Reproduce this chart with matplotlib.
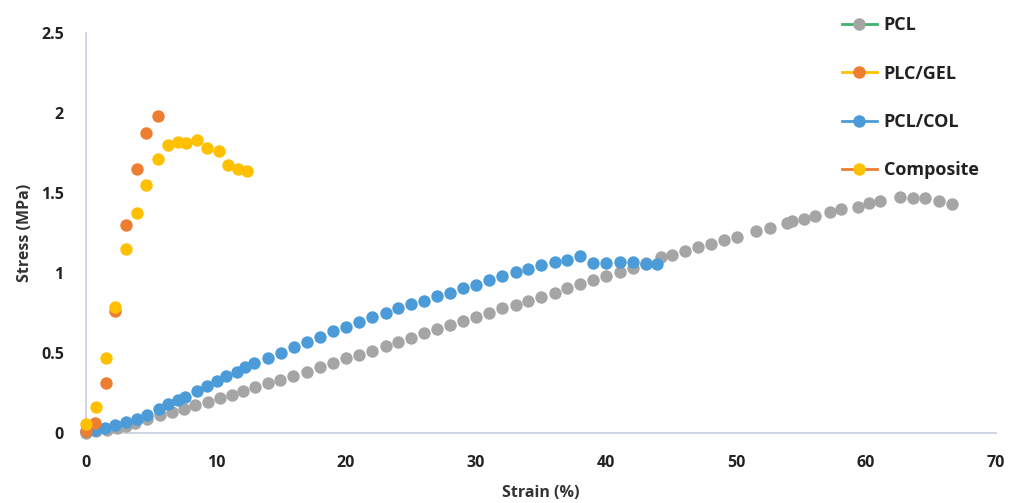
import matplotlib.pyplot as plt
from matplotlib.lines import Line2D

# --- data ---
pcl_strain = [0.0, 0.8, 1.6, 2.4, 3.1, 3.8, 4.7, 5.7, 6.6, 7.5, 8.4, 9.4, 10.3, 11.2,
              12.1, 13.0, 14.0, 14.9, 15.9, 17.0, 18.0, 19.0, 20.0, 21.0, 22.0, 23.1,
              24.0, 25.0, 26.0, 27.0, 28.0, 29.0, 30.0, 31.0, 32.0, 33.1, 34.0, 35.0,
              36.1, 37.0, 38.0, 39.0, 40.0, 41.1, 42.1, 43.1, 44.2, 45.1, 46.1, 47.1,
              48.1, 49.1, 50.1, 51.5, 52.6, 53.9, 54.3, 55.2, 56.1, 57.2, 58.1, 59.4,
              60.2, 61.1, 62.6, 63.6, 64.5, 65.6, 66.6]
pcl_stress = [0.0, 0.01, 0.02, 0.03, 0.045, 0.06, 0.085, 0.11, 0.13, 0.152, 0.175,
              0.196, 0.22, 0.24, 0.264, 0.285, 0.31, 0.33, 0.356, 0.38, 0.415, 0.44,
              0.467, 0.49, 0.514, 0.546, 0.57, 0.596, 0.623, 0.648, 0.675, 0.70, 0.727,
              0.752, 0.78, 0.80, 0.827, 0.852, 0.877, 0.904, 0.93, 0.955, 0.98, 1.005,
              1.03, 1.06, 1.098, 1.112, 1.137, 1.16, 1.18, 1.206, 1.228, 1.26, 1.28,
              1.315, 1.325, 1.338, 1.354, 1.38, 1.40, 1.415, 1.435, 1.45, 1.473, 1.47,
              1.467, 1.45, 1.43]

gel_strain = [0.0, 0.7, 1.5, 2.2, 3.1, 3.9, 4.6, 5.5]
gel_stress = [0.01, 0.06, 0.31, 0.76, 1.30, 1.65, 1.877, 1.98]

col_strain = [0.0, 0.7, 1.45, 2.2, 3.1, 3.9, 4.7, 5.6, 6.3, 7.1, 7.6, 8.5, 9.3, 10.05,
              10.8, 11.6, 12.2, 12.9, 14.0, 15.0, 16.0, 17.0, 18.0, 19.0, 20.0, 21.0,
              22.0, 23.1, 24.0, 25.0, 26.0, 27.0, 28.0, 29.0, 30.0, 31.0, 32.0, 33.1,
              34.0, 35.0, 36.1, 37.0, 38.0, 39.0, 40.0, 41.1, 42.1, 43.1, 43.9]
col_stress = [0.01, 0.02, 0.033, 0.05, 0.07, 0.09, 0.115, 0.15, 0.18, 0.206, 0.227,
              0.264, 0.294, 0.327, 0.356, 0.383, 0.41, 0.44, 0.467, 0.498, 0.537, 0.57,
              0.60, 0.637, 0.664, 0.695, 0.727, 0.748, 0.78, 0.804, 0.827, 0.858, 0.877,
              0.904, 0.925, 0.956, 0.98, 1.004, 1.028, 1.05, 1.067, 1.08, 1.108, 1.064,
              1.064, 1.07, 1.07, 1.054, 1.054]

comp_strain = [0.0, 0.74, 1.5, 2.2, 3.1, 3.9, 4.6, 5.5, 6.3, 7.1, 7.7, 8.5, 9.3, 10.2,
               10.95, 11.7, 12.35]
comp_stress = [0.054, 0.16, 0.467, 0.79, 1.148, 1.373, 1.55, 1.71, 1.80, 1.82, 1.81,
               1.83, 1.78, 1.76, 1.675, 1.65, 1.64]

labels = ['PCL', 'PLC/GEL', 'PCL/COL', 'Composite']

GREY = '#A5A5A5'
ORANGE = '#ED7D31'
BLUE = '#4A9BD8'
YELLOW = '#FFC000'
GREEN = '#3DB36B'

plt.rcParams['font.family'] = ['Open Sans', 'DejaVu Sans']
plt.rcParams['font.weight'] = 'bold'

fig = plt.figure(figsize=(10.1, 5.03), dpi=100)
ax = fig.add_axes([86 / 1010, 70 / 503, 910 / 1010, 400 / 503])

ms = 80
ax.scatter(pcl_strain, pcl_stress, s=ms, color=GREY, zorder=3, clip_on=False, linewidths=0)
ax.scatter(col_strain, col_stress, s=ms, color=BLUE, zorder=4, clip_on=False, linewidths=0)
ax.scatter(gel_strain, gel_stress, s=ms, color=ORANGE, zorder=5, clip_on=False, linewidths=0)
ax.scatter(comp_strain, comp_stress, s=ms, color=YELLOW, zorder=6, clip_on=False, linewidths=0)

ax.set_xlim(0, 70)
ax.set_ylim(0, 2.5)
ax.set_xticks(range(0, 71, 10))
ax.set_yticks([0, 0.5, 1, 1.5, 2, 2.5])
ax.set_yticklabels(['0', '0.5', '1', '1.5', '2', '2.5'])
ax.tick_params(axis='y', length=0, labelsize=11.5, colors='#222222', pad=16)
ax.tick_params(axis='x', length=0, labelsize=11.5, colors='#222222', pad=16)
for lab in ax.get_xticklabels() + ax.get_yticklabels():
    lab.set_fontweight('bold')

for side in ['top', 'right']:
    ax.spines[side].set_visible(False)
for side in ['left', 'bottom']:
    ax.spines[side].set_color('#C5CEDC')
    ax.spines[side].set_linewidth(1.2)

ax.set_xlabel('Strain (%)', fontsize=11.5, fontweight='bold', color='#333333', labelpad=10)
ax.set_ylabel('Stress (MPa)', fontsize=11.5, fontweight='bold', color='#333333', labelpad=6)

# legend: line colour differs from marker colour, as in the original
handles = [
    Line2D([], [], color=GREEN, lw=2, marker='o', markersize=9, markerfacecolor=GREY, markeredgewidth=0),
    Line2D([], [], color=YELLOW, lw=2, marker='o', markersize=9, markerfacecolor=ORANGE, markeredgewidth=0),
    Line2D([], [], color=BLUE, lw=2, marker='o', markersize=9, markerfacecolor=BLUE, markeredgewidth=0),
    Line2D([], [], color=ORANGE, lw=2, marker='o', markersize=9, markerfacecolor=YELLOW, markeredgewidth=0),
]
leg = fig.legend(handles, labels, loc='upper left', bbox_to_anchor=(826 / 1010, 1.0),
                 frameon=False, fontsize=13, labelspacing=1.68, handlelength=1.9,
                 handletextpad=0.4)
for t in leg.get_texts():
    t.set_fontweight('bold')
    t.set_color('#222222')

fig.savefig('out.png', dpi=100)
